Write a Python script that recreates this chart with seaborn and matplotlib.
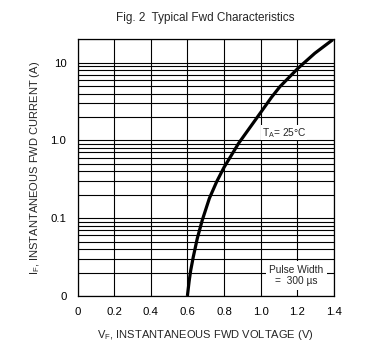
import numpy as np
import pandas as pd
import matplotlib
matplotlib.use("Agg")
import matplotlib.pyplot as plt
from matplotlib.ticker import LogLocator, FixedLocator, NullFormatter
import seaborn as sns

# Data
vf = [0.600, 0.610, 0.618, 0.632, 0.654, 0.681, 0.720, 0.760, 0.800, 0.880,
      0.978, 1.060, 1.105, 1.205, 1.296, 1.395]
i_f = [0.01, 0.0158, 0.0213, 0.0317, 0.055, 0.094, 0.18, 0.295, 0.45, 0.92,
       1.93, 3.6, 4.9, 8.5, 13.2, 19.8]

x_ticks = [0, 0.2, 0.4, 0.6, 0.8, 1.0, 1.2, 1.4]
x_tick_labels = ["0", "0.2", "0.4", "0.6", "0.8", "1.0", "1.2", "1.4"]
y_ticks = [0.01, 0.1, 1, 10]
y_tick_labels = ["0", "0.1", "1.0", "10"]

df = pd.DataFrame({"VF": vf, "IF": i_f})

sns.set_theme(style="white")
plt.rcParams['font.family'] = ['Liberation Sans', 'DejaVu Sans']
fs_tick = 8.2
fs_lab = 8.0
fs_title = 8.5
fs_ann = 7.3

fig = plt.figure(figsize=(3.82, 3.47), dpi=100)
ax = fig.add_axes([0.203, 0.147, 0.671, 0.740])

ax.set_yscale("log")
ax.set_xlim(0, 1.4)
ax.set_ylim(0.01, 20)

sns.lineplot(data=df, x="VF", y="IF", ax=ax, color="black", linewidth=2.3,
             zorder=5, estimator=None, sort=False,
             solid_joinstyle="round", solid_capstyle="butt")

ax.xaxis.set_major_locator(FixedLocator(x_ticks))
ax.set_xticklabels(x_tick_labels)
ax.yaxis.set_major_locator(FixedLocator(y_ticks))
ax.set_yticklabels(y_tick_labels)
ax.yaxis.set_minor_locator(LogLocator(base=10, subs=np.arange(2, 10)))
ax.yaxis.set_minor_formatter(NullFormatter())

ax.grid(True, which="major", axis="both", color="black", linewidth=0.8)
ax.grid(True, which="minor", axis="y", color="black", linewidth=0.8)
ax.set_axisbelow(True)

for s in ax.spines.values():
    s.set_color("black")
    s.set_linewidth(0.9)
    s.set_visible(True)

ax.tick_params(axis="both", which="both", length=0, labelsize=fs_tick, colors="black")
ax.tick_params(axis="y", pad=8)
ax.tick_params(axis="x", pad=8)

ax.set_xlabel("V$_\\mathregular{F}$, INSTANTANEOUS FWD VOLTAGE (V)", fontsize=fs_lab, labelpad=8)
ax.set_ylabel("I$_\\mathregular{F}$, INSTANTANEOUS FWD CURRENT (A)", fontsize=fs_lab, labelpad=6)
ax.set_title("Fig. 2  Typical Fwd Characteristics", fontsize=fs_title, pad=13)

ax.text(1.007, 1.25, "T$_\\mathregular{A}$= 25°C", fontsize=fs_ann, ha="left", va="center",
        zorder=6, bbox=dict(facecolor="white", edgecolor="none", pad=0.5))
ax.text(1.195, 0.0184, "Pulse Width\n=  300 µs", fontsize=fs_ann, ha="center", va="center",
        multialignment="center", zorder=6, linespacing=1.2,
        bbox=dict(facecolor="white", edgecolor="none", pad=2.5))

fig.savefig("out.png", dpi=100)
